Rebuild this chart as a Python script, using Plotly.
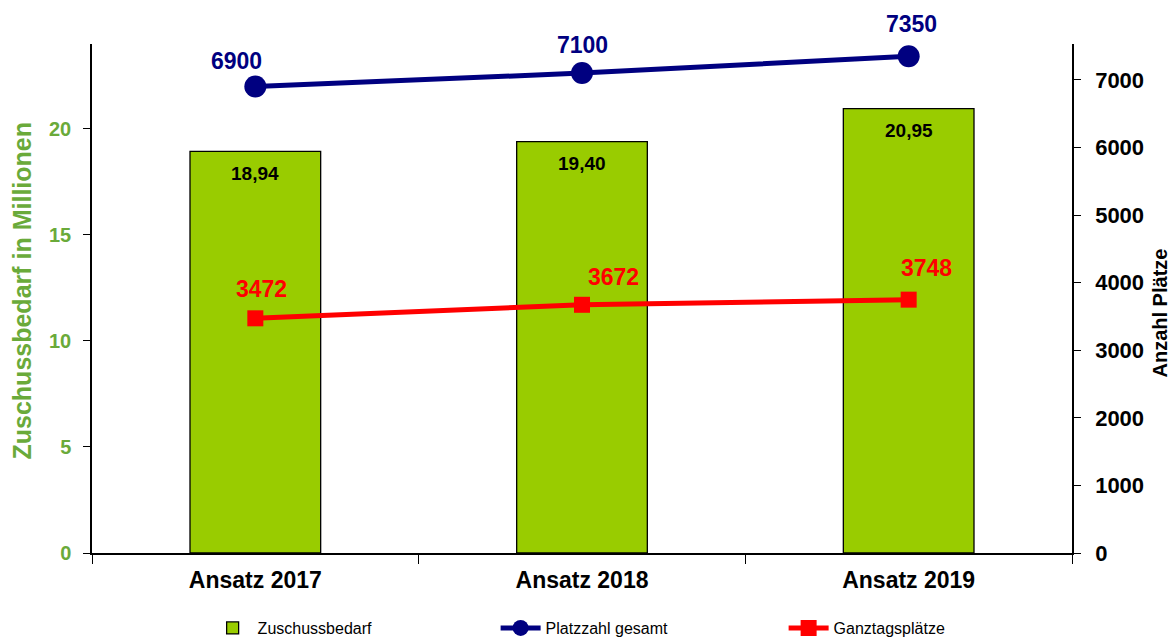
import plotly.graph_objects as go

categories = ["Ansatz 2017", "Ansatz 2018", "Ansatz 2019"]
zuschuss = [18.94, 19.40, 20.95]
platzzahl = [6900, 7100, 7350]
ganztag = [3472, 3672, 3748]

FONT = "Liberation Sans, Arial, sans-serif"
GREEN = "#99CC00"
GREEN_TXT = "#6AAA3A"
NAVY = "#000080"
RED = "#FF0000"

fig = go.Figure()
fig.add_trace(go.Bar(
    x=categories, y=zuschuss, name="Zuschussbedarf", width=0.40,
    marker=dict(color=GREEN, line=dict(color="black", width=1.3)),
))
fig.add_trace(go.Scatter(
    x=categories, y=platzzahl, name="Platzzahl gesamt", yaxis="y2",
    mode="lines+markers", line=dict(color=NAVY, width=5),
    marker=dict(symbol="circle", size=22, color=NAVY),
))
fig.add_trace(go.Scatter(
    x=categories, y=ganztag, name="Ganztagsplätze", yaxis="y2",
    mode="lines+markers", line=dict(color=RED, width=5),
    marker=dict(symbol="square", size=16, color=RED),
))

ann = []
for c, v in zip(categories, zuschuss):
    ann.append(dict(x=c, y=v, xref="x", yref="y", text=f"{v:.2f}".replace(".", ","),
                    showarrow=False, yshift=-22,
                    font=dict(family=FONT, size=19, color="black", weight="bold")))
for c, v, dx, dy in zip(categories, platzzahl, [-19, 0, 3], [26, 28, 32]):
    ann.append(dict(x=c, y=v, xref="x", yref="y2", text=str(v), showarrow=False,
                    yshift=dy, xshift=dx,
                    font=dict(family=FONT, size=23, color=NAVY, weight="bold")))
for c, v, dx, dy in zip(categories, ganztag, [6, 31, 18], [29, 28, 32]):
    ann.append(dict(x=c, y=v, xref="x", yref="y2", text=str(v), showarrow=False,
                    yshift=dy, xshift=dx,
                    font=dict(family=FONT, size=23, color=RED, weight="bold")))
ann.append(dict(x=1.0, xref="paper", xanchor="center", xshift=87, y=0.5, yref="paper",
                yanchor="middle", yshift=-15,
                text="Anzahl Plätze", textangle=-90, showarrow=False,
                font=dict(family=FONT, size=20, color="black", weight="bold")))
ann.append(dict(x=0.0, xref="paper", xanchor="center", xshift=-71, y=0.5, yref="paper",
                yanchor="middle", yshift=8,
                text="Zuschussbedarf in Millionen", textangle=-90, showarrow=False,
                font=dict(family=FONT, size=25, color=GREEN_TXT, weight="bold")))

fig.update_layout(
    width=1173, height=639,
    margin=dict(l=92, r=101, t=44, b=86, autoexpand=False),
    plot_bgcolor="white", paper_bgcolor="white",
    font=dict(family=FONT),
    showlegend=True,
    legend=dict(orientation="h", xref="container", x=0.177, xanchor="left",
                yref="paper", y=-0.114, yanchor="top",
                font=dict(family=FONT, size=16, color="black"),
                entrywidth=233, itemwidth=40, bgcolor="rgba(0,0,0,0)"),
    xaxis=dict(range=[-0.5, 2.5], showline=True, linecolor="black", linewidth=1.5,
               ticks="outside", ticklen=9, tickcolor="black", tickson="boundaries",
               ticklabelstandoff=6, automargin=False,
               tickfont=dict(family=FONT, size=23, color="black", weight="bold"),
               showgrid=False, zeroline=False),
    yaxis=dict(range=[0, 24], tickvals=[0, 5, 10, 15, 20], showline=True,
               linecolor="black", linewidth=1.5, ticks="outside", ticklen=7,
               tickcolor="black", showgrid=False, zeroline=False,
               ticklabelstandoff=8, automargin=False,
               tickfont=dict(family=FONT, size=20, color=GREEN_TXT, weight="bold")),
    yaxis2=dict(range=[0, 7530], tickvals=[0, 1000, 2000, 3000, 4000, 5000, 6000, 7000],
                overlaying="y", side="right", showline=True, linecolor="black",
                linewidth=1.5, ticks="outside", ticklen=7, tickcolor="black",
                showgrid=False, zeroline=False, ticklabelstandoff=10, automargin=False,
                tickfont=dict(family=FONT, size=22, color="black", weight="bold")),
    annotations=ann,
    bargap=0.6,
)

fig.write_html("out.html", config={"displayModeBar": False},
               post_script="document.body.style.margin='0';document.body.style.overflow='hidden';")
